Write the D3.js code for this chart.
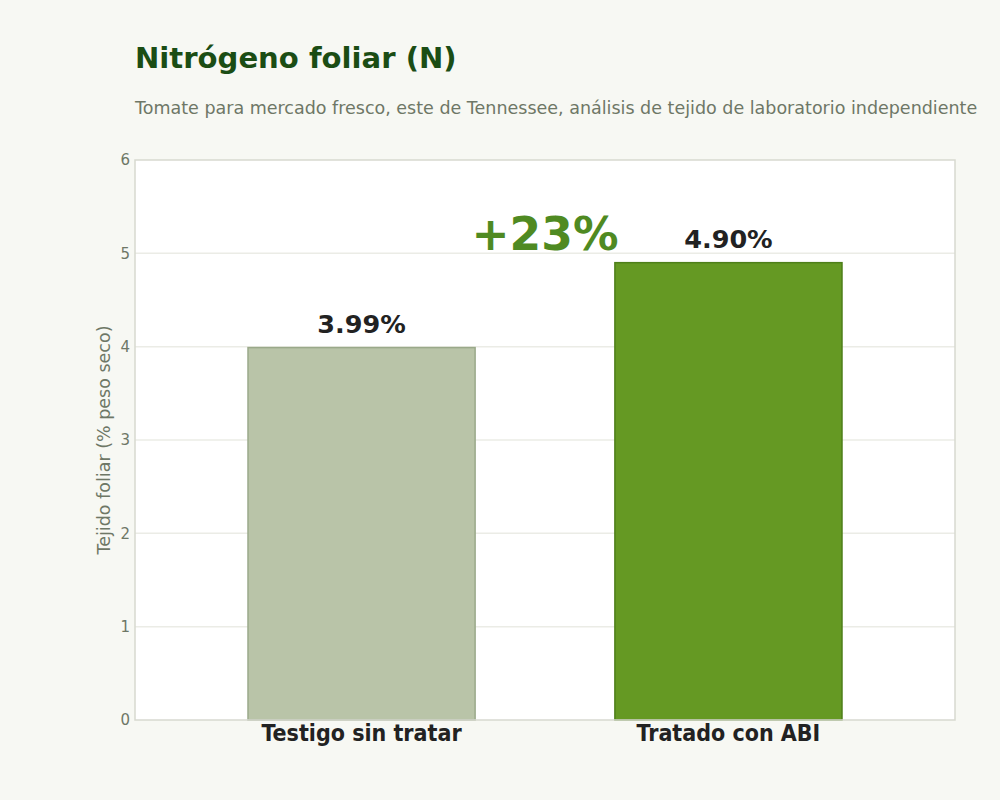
<!DOCTYPE html>
<html>
<head>
<meta charset="utf-8">
<script src="https://cdn.jsdelivr.net/npm/d3@7"></script>
<style>
  body { margin: 0; background: #f7f8f3; }
  svg { display: block; }
</style>
</head>
<body>
<div id="chart"></div>
<script>
const categories = ['Testigo sin tratar', 'Tratado con ABI'];
const values = [3.99, 4.90];
const valueLabels = ['3.99%', '4.90%'];
const yTicks = [0, 1, 2, 3, 4, 5, 6];
const changeLabel = '+23%';

const width = 1000, height = 800;
const margin = { top: 160, right: 45, bottom: 80, left: 135 };

const svg = d3.select('#chart').append('svg')
  .attr('width', width)
  .attr('height', height);

svg.append('rect').attr('width', width).attr('height', height).attr('fill', '#f7f8f3');

// title block
svg.append('text')
  .attr('x', 135).attr('y', 68)
  .attr('font-family', 'DejaVu Sans')
  .attr('font-weight', 'bold')
  .attr('font-size', 29.1)
  .attr('fill', '#1b4d14')
  .text('Nitrógeno foliar (N)');

svg.append('text')
  .attr('x', 135).attr('y', 114)
  .attr('font-family', 'DejaVu Sans')
  .attr('font-size', 17.5)
  .attr('fill', '#6e7766')
  .text('Tomate para mercado fresco, este de Tennessee, análisis de tejido de laboratorio independiente');

const x = d3.scaleBand()
  .domain(categories)
  .range([margin.left, width - margin.right])
  .paddingInner(0.381)
  .paddingOuter(0.308);

const y = d3.scaleLinear()
  .domain([0, 6])
  .range([height - margin.bottom, margin.top]);

// plot background
svg.append('rect')
  .attr('x', margin.left).attr('y', margin.top)
  .attr('width', width - margin.left - margin.right)
  .attr('height', height - margin.top - margin.bottom)
  .attr('fill', '#ffffff');

// grid
svg.append('g')
  .selectAll('line')
  .data(yTicks.filter(d => d > 0 && d < 6))
  .join('line')
  .attr('x1', margin.left).attr('x2', width - margin.right)
  .attr('y1', d => y(d)).attr('y2', d => y(d))
  .attr('stroke', '#ebece6')
  .attr('stroke-width', 1.5);

// bars
const colors = ['#b9c4a8', '#659923'];
const strokes = ['#9aa98a', '#4e7f1a'];
svg.append('g')
  .selectAll('rect')
  .data(values)
  .join('rect')
  .attr('x', (d, i) => x(categories[i]))
  .attr('y', d => y(d))
  .attr('width', x.bandwidth())
  .attr('height', d => y(0) - y(d))
  .attr('fill', (d, i) => colors[i])
  .attr('stroke', (d, i) => strokes[i])
  .attr('stroke-width', 1.5);

// plot border
svg.append('rect')
  .attr('x', margin.left).attr('y', margin.top)
  .attr('width', width - margin.left - margin.right)
  .attr('height', height - margin.top - margin.bottom)
  .attr('fill', 'none')
  .attr('stroke', '#d7d9d0')
  .attr('stroke-width', 1.5);

// value labels
svg.append('g')
  .selectAll('text')
  .data(values)
  .join('text')
  .attr('x', (d, i) => x(categories[i]) + x.bandwidth() / 2)
  .attr('y', d => y(d) - 15)
  .attr('text-anchor', 'middle')
  .attr('font-family', 'DejaVu Sans')
  .attr('font-weight', 'bold')
  .attr('font-size', 25.5)
  .attr('fill', '#222222')
  .text((d, i) => valueLabels[i]);

// change annotation
const midX = (x(categories[0]) + x(categories[1]) + x.bandwidth()) / 2;
svg.append('text')
  .attr('x', midX)
  .attr('y', y(values[1]) - 13)
  .attr('text-anchor', 'middle')
  .attr('font-family', 'DejaVu Sans')
  .attr('font-weight', 'bold')
  .attr('font-size', 45.5)
  .attr('fill', '#4f8a22')
  .text(changeLabel);

// y axis
const yAxis = svg.append('g')
  .attr('transform', `translate(${margin.left},0)`)
  .call(d3.axisLeft(y).tickValues(yTicks).tickFormat(d3.format('d')).tickSize(0).tickPadding(5));
yAxis.select('.domain').remove();
yAxis.selectAll('text')
  .attr('font-family', 'DejaVu Sans')
  .attr('font-size', 15)
  .attr('fill', '#6e7766');

// x axis
const xAxis = svg.append('g')
  .attr('transform', `translate(0,${height - margin.bottom})`)
  .call(d3.axisBottom(x).tickSize(0).tickPadding(5));
xAxis.select('.domain').remove();
xAxis.selectAll('text')
  .attr('font-family', 'DejaVu Sans Condensed, DejaVu Sans')
  .attr('font-weight', 'bold')
  .attr('font-size', 23)
  .attr('fill', '#222222');

// y label
svg.append('text')
  .attr('transform', `translate(110,${(margin.top + height - margin.bottom) / 2}) rotate(-90)`)
  .attr('text-anchor', 'middle')
  .attr('font-family', 'DejaVu Sans')
  .attr('font-size', 17.5)
  .attr('fill', '#6e7766')
  .text('Tejido foliar (% peso seco)');
</script>
</body>
</html>
